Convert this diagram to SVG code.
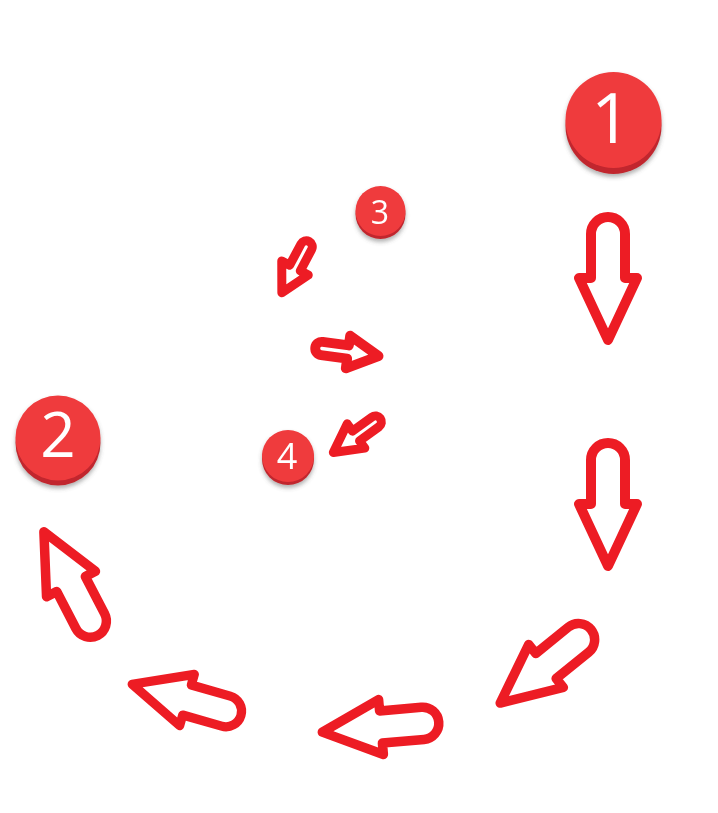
<svg xmlns="http://www.w3.org/2000/svg" xmlns:xlink="http://www.w3.org/1999/xlink" width="718" height="813" viewBox="0 0 718 813">
<style>
.arrow{fill:#fff;stroke:#ed1c24;stroke-width:10;stroke-linejoin:round;vector-effect:non-scaling-stroke}
.sarrow{fill:#fff;stroke:#ed1c24;stroke-width:9;stroke-linejoin:round;vector-effect:non-scaling-stroke}
.face{fill:#ef3b3e}
.rim{fill:#c1272d}
.num{fill:#fff;font-family:"Open Sans","Noto Sans",sans-serif;text-anchor:middle}
</style>
<defs>
<filter id="sh" x="-30%" y="-30%" width="160%" height="170%">
<feDropShadow dx="0" dy="3" stdDeviation="2" flood-color="#555" flood-opacity="0.45"/>
</filter>
<path id="big" d="M -17,-44 A 17 17 0 0 1 17,-44 L 17,0 L 29,0 L 0,62 L -29,0 L -17,0 Z"/>
<path id="small" d="M -6,-24 A 6 6 0 0 1 6,-24 L 6,0 L 15,0 L 0,28 L -15,0 L -6,0 Z"/>
</defs>
<rect width="718" height="813" fill="#fff"/>
<g id="node1" filter="url(#sh)">
<circle class="rim" cx="613.5" cy="126" r="48"/>
<circle class="face" cx="613.5" cy="120" r="48"/>
<text class="num" x="611" y="143" font-size="70">1</text>
</g>
<g id="node2" filter="url(#sh)">
<circle class="rim" cx="58" cy="443" r="42.5"/>
<circle class="face" cx="58" cy="438" r="42.5"/>
<text class="num" x="58" y="457" font-size="62">2</text>
</g>
<g id="node3" filter="url(#sh)">
<circle class="rim" cx="380.5" cy="214" r="25"/>
<circle class="face" cx="380.5" cy="211" r="25"/>
<text class="num" x="380" y="223.5" font-size="32">3</text>
</g>
<g id="node4" filter="url(#sh)">
<circle class="rim" cx="288" cy="459" r="26"/>
<circle class="face" cx="288" cy="456" r="26"/>
<text class="num" x="287" y="469" font-size="36">4</text>
</g>
<g id="connectors">
<use xlink:href="#big" class="arrow" transform="translate(608,278)"/>
<use xlink:href="#big" class="arrow" transform="translate(608,504)"/>
<use xlink:href="#big" class="arrow" transform="translate(546,666) rotate(51) scale(0.95)"/>
<use xlink:href="#big" class="arrow" transform="translate(381,727) rotate(85) scale(0.95)"/>
<use xlink:href="#big" class="arrow" transform="translate(187,700) rotate(106) scale(0.92)"/>
<use xlink:href="#big" class="arrow" transform="translate(71,584) rotate(152.6) scale(0.95)"/>
<use xlink:href="#small" class="sarrow" transform="translate(295,268) rotate(28)"/>
<use xlink:href="#small" class="sarrow" transform="translate(348,352) rotate(-82.4) scale(1.1)"/>
<use xlink:href="#small" class="sarrow" transform="translate(356,436) rotate(54)"/>
</g>
</svg>
